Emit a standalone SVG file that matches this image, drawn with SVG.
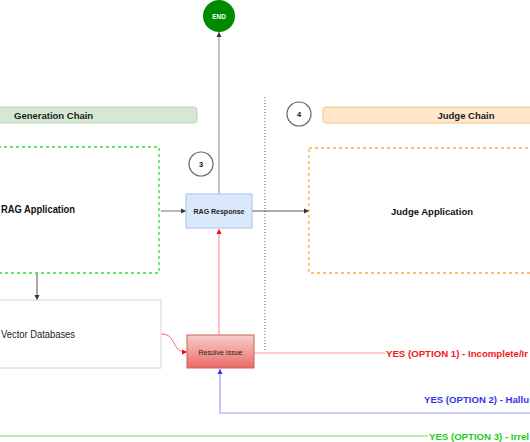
<svg xmlns="http://www.w3.org/2000/svg" width="530" height="442" viewBox="0 0 530 442">
<defs>
<style>
text{font-family:"Liberation Sans",Arial,sans-serif;}
.b{font-weight:bold;}
.lbl{font-size:9.5px;font-weight:bold;}
.circ{fill:#fff;stroke:#666;stroke-width:1.2;}
</style>
<linearGradient id="rg" x1="0" y1="0" x2="0" y2="1">
<stop offset="0" stop-color="#f8cecc"/>
<stop offset="1" stop-color="#ea6b66"/>
</linearGradient>
<marker id="ak" markerWidth="6" markerHeight="6" refX="5" refY="3" orient="auto" markerUnits="userSpaceOnUse">
<path d="M0,0.5 L5,3 L0,5.5 Z" fill="#333"/>
</marker>
<marker id="ar" markerWidth="6" markerHeight="6" refX="5" refY="3" orient="auto" markerUnits="userSpaceOnUse">
<path d="M0,0.5 L5,3 L0,5.5 Z" fill="#ff0000"/>
</marker>
<marker id="ab" markerWidth="6" markerHeight="6" refX="5" refY="3" orient="auto" markerUnits="userSpaceOnUse">
<path d="M0,0.5 L5,3 L0,5.5 Z" fill="#3333ff"/>
</marker>
</defs>
<rect width="530" height="442" fill="#fff"/>

<g id="separator">
<line x1="265" y1="97" x2="265" y2="350" stroke="#555" stroke-width="1" stroke-dasharray="1,2"/>
</g>

<g id="connectors" fill="none">
<line x1="219" y1="194" x2="219" y2="32" stroke="#999" stroke-width="1.2" marker-end="url(#ak)"/>
<line x1="161" y1="211" x2="186" y2="211" stroke="#777" stroke-width="1" marker-end="url(#ak)"/>
<line x1="252" y1="211" x2="309" y2="211" stroke="#555" stroke-width="1" marker-end="url(#ak)"/>
<line x1="37" y1="273" x2="37" y2="300" stroke="#555" stroke-width="1" marker-end="url(#ak)"/>
<path d="M161,334 C178,334 170,352 187,352" stroke="#ff6666" stroke-width="1" marker-end="url(#ar)"/>
<line x1="219" y1="335" x2="219" y2="229" stroke="#ff9999" stroke-width="1.2" marker-end="url(#ar)"/>
<line x1="254" y1="353" x2="385" y2="353" stroke="#ff9999" stroke-width="1.2"/>
<polyline points="530,413 220,413 220,369" stroke="#9999ff" stroke-width="1.2" marker-end="url(#ab)"/>
<line x1="0" y1="436" x2="428" y2="436" stroke="#66e066" stroke-width="1.2"/>
</g>

<g id="end">
<circle cx="219" cy="16" r="16" fill="#008a00"/>
<text x="219" y="18.5" font-size="6.5" class="b" fill="#fff" text-anchor="middle">END</text>
</g>

<g id="generation-chain">
<rect x="-10" y="107" width="207" height="16" rx="3" fill="#d5e8d4" stroke="#b9d6b6" stroke-width="1"/>
<text x="14" y="118.5" font-size="9.5" class="b" fill="#222">Generation Chain</text>
</g>

<g id="rag-application">
<rect x="-20" y="147" width="179" height="126" fill="none" stroke="#33dd33" stroke-width="1.3" stroke-dasharray="3,3"/>
<text x="1" y="213" font-size="10.5" class="b" fill="#111" textLength="74" lengthAdjust="spacingAndGlyphs">RAG Application</text>
</g>

<g id="vector-databases">
<rect x="-10" y="300" width="171" height="68" fill="#fff" stroke="#d4d4d4" stroke-width="1"/>
<text x="1" y="338" font-size="10.3" fill="#222" textLength="74" lengthAdjust="spacingAndGlyphs">Vector Databases</text>
</g>

<g id="step3">
<circle cx="201" cy="164" r="12" class="circ"/>
<text x="201" y="167" font-size="7.5" class="b" fill="#111" text-anchor="middle">3</text>
</g>

<g id="rag-response">
<rect x="186" y="194" width="66" height="34" fill="#dae8fc" stroke="#a9c1e4" stroke-width="1"/>
<text x="219" y="213.5" font-size="7" class="b" fill="#222" text-anchor="middle">RAG Response</text>
</g>

<g id="resolve-issue">
<rect x="187" y="335" width="67" height="33" fill="url(#rg)" stroke="#c7635f" stroke-width="1"/>
<text x="220.5" y="354.5" font-size="7" fill="#222" text-anchor="middle">Resolve Issue</text>
</g>

<g id="step4">
<circle cx="299" cy="114" r="12" class="circ"/>
<text x="299" y="117" font-size="7.5" class="b" fill="#111" text-anchor="middle">4</text>
</g>

<g id="judge-chain">
<rect x="323" y="107" width="230" height="16" rx="3" fill="#ffe6cc" stroke="#f2c47e" stroke-width="1"/>
<text x="466" y="118.5" font-size="9.5" class="b" fill="#222" text-anchor="middle">Judge Chain</text>
</g>

<g id="judge-application">
<rect x="309" y="148" width="240" height="125" fill="none" stroke="#ffa64d" stroke-width="1.3" stroke-dasharray="3,3"/>
<text x="432" y="214.5" font-size="9.5" class="b" fill="#111" text-anchor="middle">Judge Application</text>
</g>

<g id="labels">
<text x="386" y="356.5" class="lbl" fill="#f01818" textLength="142" lengthAdjust="spacingAndGlyphs">YES (OPTION 1) - Incomplete/Ir</text>
<text x="424" y="402.5" class="lbl" fill="#3333ee" textLength="105" lengthAdjust="spacingAndGlyphs">YES (OPTION 2) - Hallu</text>
<text x="429" y="439.5" class="lbl" fill="#22cc22" textLength="100" lengthAdjust="spacingAndGlyphs">YES (OPTION 3) - Irrel</text>
</g>
</svg>
